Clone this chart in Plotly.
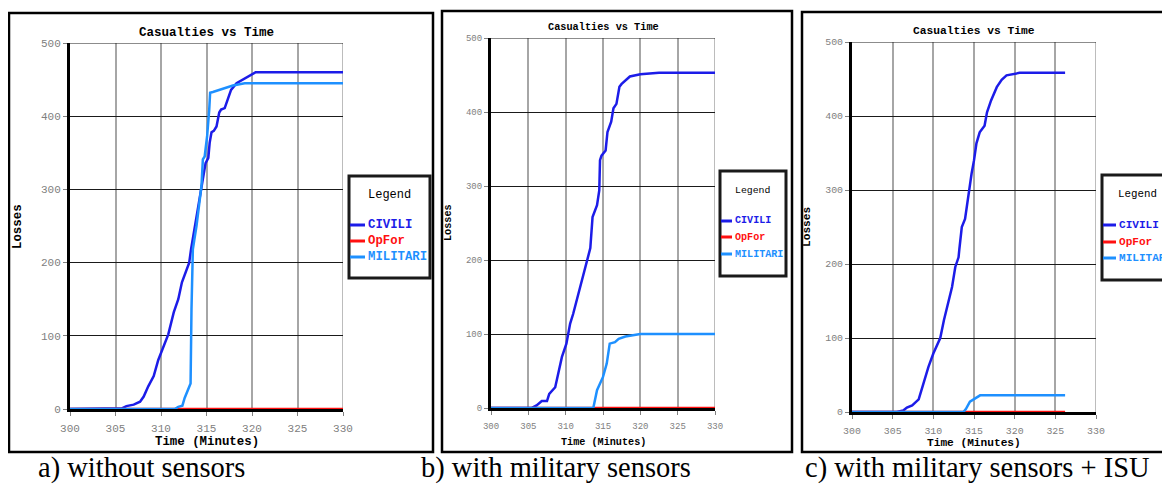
import plotly.graph_objects as go

# a pagina tem margem de 8 px no body: a figura fica 8 px menor e deslocada
OFF = 8
W, H = 1170 - OFF, 484 - OFF

# --- dados (tempo em minutos, perdas) ---
SERIES = ["CIVILI", "OpFor", "MILITARI"]
COLORS = {"CIVILI": "#1c1ce8", "OpFor": "#ff1010", "MILITARI": "#1e90ff"}

X_TICKS = [300, 305, 310, 315, 320, 325, 330]
Y_TICKS = [0, 100, 200, 300, 400, 500]

# a) without sensors
A_TIME_CIVILI = [300, 305.1, 305.7, 306.2, 307.0, 307.7, 308.1, 308.6, 309.2, 309.7,
                 310.3, 310.8, 311.4, 311.9, 312.3, 312.8, 313.1, 313.3, 313.5, 313.7,
                 314.25, 314.6, 314.9, 315.2, 315.35, 315.55, 315.8, 316.1, 316.4, 316.6,
                 317.0, 317.4, 317.7, 318.3, 319.9, 320.4, 330]
A_CIVILI = [0, 0, 1, 4, 6, 10, 17, 31, 45, 67,
            86, 102, 132, 150, 173, 191, 200, 218, 232, 250,
            286, 314, 336, 343, 364, 378, 380, 386, 405, 409,
            411, 427, 436, 445, 457, 460, 460]
A_TIME_OPFOR = [300, 330]
A_OPFOR = [0, 0]
A_TIME_MILITARI = [300, 311.5, 311.9, 312.35, 312.6, 313.0, 313.25, 313.35, 313.5, 313.65,
                   313.9, 314.45, 314.6, 314.8, 315.07, 315.3, 315.4, 315.7, 316.5, 317.9,
                   319.2, 330]
A_MILITARI = [0, 0, 3, 4.5, 15, 26, 35, 136, 218, 230,
              250, 305, 341, 345, 373, 409, 432, 433, 436, 442,
              445, 445]

# b) with military sensors
B_TIME_CIVILI = [300, 305.4, 306.1, 306.8, 307.5, 307.8, 308.6, 309.0, 309.5, 310.1,
                 310.6, 311.0, 311.7, 312.4, 312.8, 313.3, 313.6, 314.2, 314.5, 314.6,
                 314.8, 315.35, 315.6, 316.1, 316.4, 316.8, 317.2, 317.5, 318.6, 320.0,
                 322.5, 330]
B_CIVILI = [0, 0, 3.6, 9.4, 9.4, 19, 28, 46, 69, 87,
            114, 127, 154, 181, 199, 216, 258, 274, 294, 335,
            341, 348, 373, 387, 405, 411, 434, 438, 448, 451,
            453, 453]
B_TIME_OPFOR = [300, 330]
B_OPFOR = [0, 0]
B_TIME_MILITARI = [300, 313.7, 314.2, 315.0, 315.5, 315.9, 316.6, 317.1, 318.0, 319.1, 320.0, 330]
B_MILITARI = [0, 0, 24, 42, 60, 87, 89, 93.5, 96.6, 98.6, 100, 100]

# c) with military sensors + ISU
C_TIME_CIVILI = [300, 305.5, 306.3, 306.75, 307.4, 308.2, 308.8, 309.4, 310.0, 310.85,
                 311.3, 311.7, 312.3, 312.7, 313.1, 313.2, 313.5, 313.9, 314.3, 314.7,
                 315.0, 315.3, 315.7, 316.3, 316.6, 317.1, 317.8, 318.4, 319.0, 320.0,
                 320.6, 326.2]
C_CIVILI = [0, 0, 2, 6, 9, 17, 39, 61, 79, 100,
            124, 142, 169, 196, 209, 220, 250, 261, 295, 322,
            340, 363, 378, 387, 405, 421, 439, 449, 455, 456.6,
            458.3, 458.3]
C_TIME_OPFOR = [300, 326.2]
C_OPFOR = [0, 0]
C_TIME_MILITARI = [300, 313.7, 314.0, 314.5, 315.1, 315.75, 326.2]
C_MILITARI = [0, 0, 4, 14, 18, 22.5, 22.5]

CAPTIONS = ["a) without sensors", "b) with military sensors", "c) with military sensors + ISU"]
TITLE = "Casualties vs Time"
X_TITLE = "Time (Minutes)"
Y_TITLE = "Losses"

# geometria de cada painel em pixels da janela
PANELS = [
    dict(data={"CIVILI": (A_TIME_CIVILI, A_CIVILI), "OpFor": (A_TIME_OPFOR, A_OPFOR),
               "MILITARI": (A_TIME_MILITARI, A_MILITARI)},
         plot=(70, 343, 43, 409), box=(9, 433, 13, 452), leg=(349, 430, 176, 278),
         leg_title_x=389, leg_title_y=195, leg_y=[225, 241, 257], sample=16, s=1.0,
         title_y=33, xtitle_y=442, ytitle_x=18, cap_x=141),
    dict(data={"CIVILI": (B_TIME_CIVILI, B_CIVILI), "OpFor": (B_TIME_OPFOR, B_OPFOR),
               "MILITARI": (B_TIME_MILITARI, B_MILITARI)},
         plot=(491, 715, 38, 408), box=(442, 792, 11, 452), leg=(720, 786, 171, 276),
         leg_title_x=752, leg_title_y=191, leg_y=[221, 237, 254], sample=12, s=0.82,
         title_y=27, xtitle_y=442, ytitle_x=449, cap_x=556),
    dict(data={"CIVILI": (C_TIME_CIVILI, C_CIVILI), "OpFor": (C_TIME_OPFOR, C_OPFOR),
               "MILITARI": (C_TIME_MILITARI, C_MILITARI)},
         plot=(852, 1096, 42, 412), box=(802, 1185, 12, 452), leg=(1102, 1185, 175, 280),
         leg_title_x=1137, leg_title_y=194, leg_y=[225, 242, 258], sample=14, s=0.9,
         title_y=31, xtitle_y=443, ytitle_x=807, cap_x=977),
]


def px(x):
    return (x - OFF) / W


def py(y):
    return 1 - (y - OFF) / H


def label(text, x, y, size, color="black", family="Liberation Mono", **kw):
    return dict(text=text, x=px(x), y=py(y), xref="paper", yref="paper", showarrow=False,
                xanchor=kw.pop("xanchor", "center"), yanchor="middle",
                font=dict(family=family, size=size, color=color), **kw)


MONO = "Liberation Mono"
fig = go.Figure()
shapes = []
annotations = []

for i, p in enumerate(PANELS):
    n = "" if i == 0 else str(i + 1)
    s = p["s"]
    x0, x1, y0, y1 = p["plot"]

    for name in SERIES:
        t, v = p["data"][name]
        fig.add_trace(go.Scatter(x=t, y=v, mode="lines", name=name, showlegend=False,
                                 line=dict(color=COLORS[name], width=2.5),
                                 xaxis="x" + n, yaxis="y" + n))

    common = dict(showline=True, linecolor="black", linewidth=3, ticks="outside",
                  ticklen=4, tickcolor="#808080", zeroline=False, layer="below traces",
                  tickfont=dict(family=MONO, size=11 * s, color="#808080"),
                  fixedrange=True)
    fig.update_layout({
        "xaxis" + n: dict(domain=[px(x0), px(x1)], range=[300, 330], tickvals=X_TICKS,
                          gridcolor="#a6a6a6", gridwidth=1.5, anchor="y" + n,
                          ticklabelstandoff=3, **common),
        "yaxis" + n: dict(domain=[py(y1), py(y0)], range=[0, 500], tickvals=Y_TICKS,
                          gridcolor="#1a1a1a", gridwidth=1, anchor="x" + n, **common),
    })

    # bordas superior (500) e direita (330) da area do grafico
    shapes.append(dict(type="line", xref="x" + n + " domain", yref="y" + n, x0=0, x1=1,
                       y0=500, y1=500, line=dict(color="#1a1a1a", width=1)))
    shapes.append(dict(type="line", xref="x" + n, yref="y" + n + " domain", x0=330, x1=330,
                       y0=0, y1=1, line=dict(color="#a6a6a6", width=1.5), layer="below"))

    # moldura do painel
    bx0, bx1, by0, by1 = p["box"]
    shapes.append(dict(type="rect", xref="paper", yref="paper", x0=px(bx0), x1=px(bx1),
                       y0=py(by1), y1=py(by0), line=dict(color="black", width=2.5)))

    # caixa da legenda
    lx0, lx1, ly0, ly1 = p["leg"]
    shapes.append(dict(type="rect", xref="paper", yref="paper", x0=px(lx0), x1=px(lx1),
                       y0=py(ly1), y1=py(ly0), line=dict(color="#1a1a1a", width=3),
                       fillcolor="white"))
    annotations.append(label("Legend", p["leg_title_x"], p["leg_title_y"], 12 * s))
    for name, ly in zip(SERIES, p["leg_y"]):
        shapes.append(dict(type="line", xref="paper", yref="paper", x0=px(lx0 + 1),
                           x1=px(lx0 + p["sample"]), y0=py(ly), y1=py(ly),
                           line=dict(color=COLORS[name], width=3)))
        annotations.append(label("<b>" + name + "</b>", lx0 + p["sample"] + 1, ly,
                                 12.3 * s, COLORS[name], xanchor="left"))

    # titulos
    cx = (x0 + x1) / 2
    annotations.append(label("<b>" + TITLE + "</b>", cx, p["title_y"], 12.5 * s))
    annotations.append(label("<b>" + X_TITLE + "</b>", cx, p["xtitle_y"], 12.4 * s))
    annotations.append(label("<b>" + Y_TITLE + "</b>", p["ytitle_x"], (y0 + y1) / 2,
                             12.4 * s, textangle=-90))
    annotations.append(label(CAPTIONS[i], p["cap_x"], 468, 28.5, family="Liberation Serif"))

fig.update_layout(width=W, height=H, autosize=False,
                  margin=dict(l=0, r=0, t=0, b=0, autoexpand=False),
                  paper_bgcolor="white", plot_bgcolor="white",
                  shapes=shapes, annotations=annotations)

fig.write_html("out.html")
